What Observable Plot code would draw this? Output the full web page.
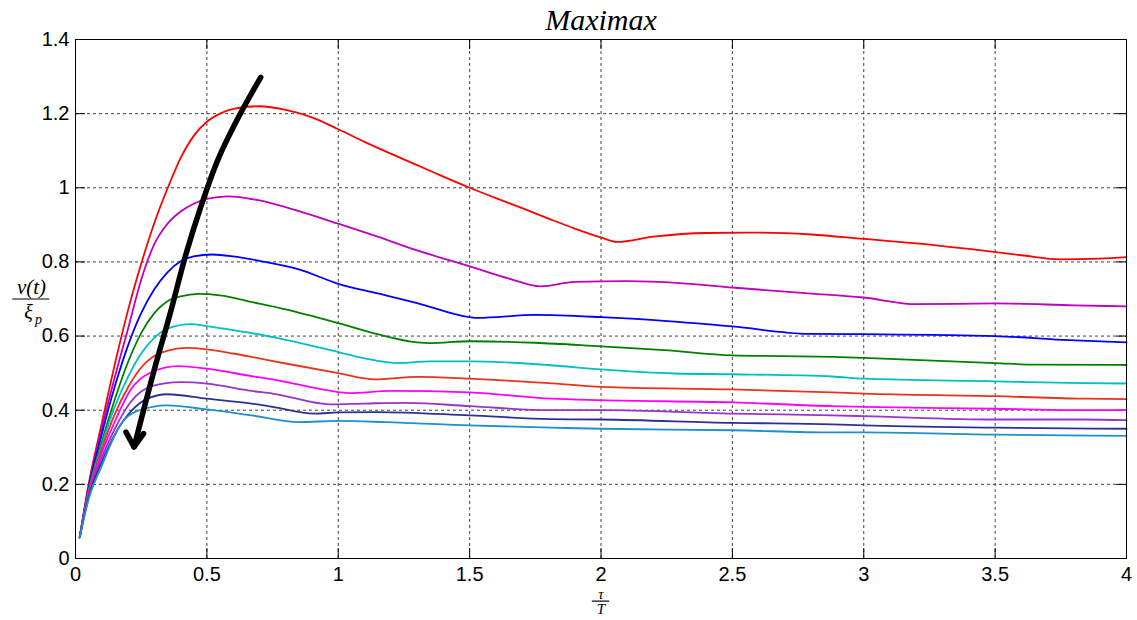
<!DOCTYPE html>
<html>
<head>
<meta charset="utf-8">
<script src="https://cdn.jsdelivr.net/npm/d3@7"></script>
<script src="https://cdn.jsdelivr.net/npm/@observablehq/plot@0.6"></script>
<style>
  html, body { margin: 0; padding: 0; background: #fff; }
</style>
</head>
<body>
<div id="chart"></div>
<script>
// ---- Data ----
const xTicks = [0, 0.5, 1, 1.5, 2, 2.5, 3, 3.5, 4];
const xTickLabels = ["0", "0.5", "1", "1.5", "2", "2.5", "3", "3.5", "4"];
const yTicks = [0, 0.2, 0.4, 0.6, 0.8, 1.0, 1.2, 1.4];
const yTickLabels = ["0", "0.2", "0.4", "0.6", "0.8", "1", "1.2", "1.4"];

const seriesNames = ["s1", "s2", "s3", "s4", "s5", "s6", "s7", "s8", "s9", "s10"];
const seriesColors = ["#ff0000", "#bf00bf", "#0000ff", "#008000", "#00bfbf",
                      "#e8341a", "#ff00ff", "#9933cc", "#2e3192", "#1f8fcf"];

const s1 = [[0.016,0.057],[0.05,0.20],[0.1,0.365],[0.15,0.525],[0.2,0.67],[0.25,0.795],[0.3,0.905],[0.35,0.998],[0.4,1.08],[0.45,1.14],[0.5,1.178],[0.55,1.2],[0.6,1.213],[0.7,1.22],[0.8,1.21],[0.9,1.19],[1.0,1.158],[1.1,1.124],[1.2,1.092],[1.3,1.061],[1.4,1.03],[1.5,1.0],[1.6,0.972],[1.7,0.945],[1.8,0.917],[1.9,0.89],[2.0,0.866],[2.06,0.854],[2.2,0.868],[2.4,0.878],[2.6,0.879],[2.8,0.874],[3.0,0.862],[3.2,0.85],[3.4,0.835],[3.6,0.818],[3.75,0.807],[3.9,0.809],[4.0,0.813]];
const s2 = [[0.016,0.057],[0.05,0.195],[0.1,0.35],[0.15,0.49],[0.2,0.62],[0.25,0.752],[0.3,0.848],[0.35,0.903],[0.4,0.936],[0.45,0.957],[0.5,0.97],[0.58,0.977],[0.7,0.966],[0.85,0.937],[1.0,0.903],[1.15,0.868],[1.3,0.831],[1.5,0.788],[1.65,0.755],[1.77,0.734],[1.9,0.746],[2.1,0.748],[2.3,0.743],[2.5,0.731],[2.75,0.717],[3.0,0.704],[3.2,0.686],[3.5,0.688],[3.8,0.683],[4.0,0.68]];
const s3 = [[0.016,0.057],[0.05,0.19],[0.1,0.335],[0.15,0.465],[0.2,0.575],[0.25,0.662],[0.3,0.726],[0.35,0.772],[0.4,0.802],[0.45,0.815],[0.52,0.82],[0.6,0.815],[0.7,0.803],[0.85,0.78],[1.0,0.741],[1.15,0.715],[1.3,0.689],[1.5,0.651],[1.53,0.649],[1.75,0.657],[2.0,0.651],[2.24,0.641],[2.5,0.626],[2.79,0.606],[3.0,0.605],[3.5,0.6],[3.78,0.589],[4.0,0.583]];
const s4 = [[0.016,0.057],[0.05,0.185],[0.1,0.315],[0.15,0.43],[0.2,0.53],[0.25,0.608],[0.3,0.662],[0.35,0.694],[0.4,0.707],[0.47,0.714],[0.55,0.71],[0.67,0.692],[0.8,0.672],[1.0,0.635],[1.15,0.605],[1.3,0.583],[1.35,0.581],[1.5,0.586],[1.75,0.582],[2.0,0.572],[2.24,0.562],[2.5,0.548],[2.88,0.544],[3.0,0.541],[3.5,0.527],[3.65,0.523],[4.0,0.522]];
const s5 = [[0.016,0.057],[0.05,0.18],[0.1,0.305],[0.15,0.41],[0.2,0.49],[0.25,0.553],[0.3,0.595],[0.35,0.62],[0.44,0.632],[0.5,0.627],[0.6,0.616],[0.67,0.608],[0.8,0.59],[1.0,0.557],[1.1,0.54],[1.23,0.527],[1.35,0.532],[1.5,0.532],[1.8,0.522],[2.0,0.51],[2.28,0.499],[2.5,0.497],[2.88,0.491],[3.0,0.485],[3.5,0.478],[3.84,0.473],[4.0,0.472]];
const s6 = [[0.016,0.057],[0.05,0.178],[0.1,0.295],[0.15,0.39],[0.2,0.462],[0.26,0.523],[0.33,0.556],[0.43,0.568],[0.5,0.564],[0.6,0.553],[0.67,0.544],[0.8,0.526],[1.0,0.5],[1.14,0.483],[1.3,0.49],[1.5,0.485],[1.8,0.473],[2.0,0.463],[2.5,0.456],[2.88,0.448],[3.0,0.445],[3.5,0.438],[3.84,0.431],[4.0,0.43]];
const s7 = [[0.016,0.057],[0.05,0.175],[0.1,0.285],[0.15,0.37],[0.21,0.455],[0.29,0.503],[0.39,0.519],[0.5,0.512],[0.67,0.492],[0.75,0.483],[1.0,0.449],[1.04,0.446],[1.2,0.452],[1.5,0.448],[1.81,0.431],[2.0,0.427],[2.5,0.421],[2.88,0.411],[3.0,0.409],[3.5,0.404],[3.84,0.4],[4.0,0.4]];
const s8 = [[0.016,0.057],[0.05,0.17],[0.1,0.272],[0.15,0.35],[0.21,0.422],[0.29,0.465],[0.4,0.476],[0.5,0.472],[0.67,0.452],[0.75,0.445],[0.97,0.416],[1.1,0.418],[1.26,0.42],[1.5,0.411],[1.81,0.4],[2.0,0.4],[2.5,0.391],[2.88,0.386],[3.0,0.384],[3.5,0.375],[3.84,0.375],[4.0,0.373]];
const s9 = [[0.016,0.057],[0.05,0.165],[0.1,0.26],[0.15,0.335],[0.21,0.396],[0.27,0.43],[0.35,0.443],[0.5,0.431],[0.67,0.418],[0.75,0.409],[0.91,0.391],[1.0,0.394],[1.15,0.395],[1.5,0.386],[1.81,0.376],[2.0,0.375],[2.5,0.366],[2.88,0.362],[3.0,0.359],[3.5,0.353],[4.0,0.35]];
const s10 = [[0.016,0.057],[0.05,0.16],[0.1,0.25],[0.13,0.302],[0.172,0.362],[0.236,0.398],[0.35,0.413],[0.5,0.402],[0.67,0.386],[0.85,0.368],[1.0,0.371],[1.18,0.368],[1.5,0.359],[1.81,0.353],[2.0,0.35],[2.5,0.346],[2.88,0.34],[3.0,0.34],[3.5,0.334],[4.0,0.331]];

// annotation arrow (data coordinates)
const arrowPath = [[0.705,1.298],[0.62,1.19],[0.541,1.074],[0.48,0.955],[0.42,0.82],[0.36,0.66],[0.30,0.51],[0.223,0.301]];
const arrowHead = [[0.192,0.341],[0.223,0.301],[0.259,0.337]];

const titleText = "Maximax";

// ---- Build table ----
const allSeries = [s1, s2, s3, s4, s5, s6, s7, s8, s9, s10];
const rows = allSeries.flatMap((s, i) => s.map(([x, y]) => ({x, y, k: seriesNames[i]})));
const arrowRows = arrowPath.map(([x, y]) => ({x, y}));
const headRows = arrowHead.map(([x, y]) => ({x, y}));
const xLab = new Map(xTicks.map((t, i) => [t, xTickLabels[i]]));
const yLab = new Map(yTicks.map((t, i) => [t, yTickLabels[i]]));

const W = 1137, H = 620, mL = 75, mR = 11, mT = 39, mB = 62;
const fw = W - mL - mR, fh = H - mT - mB;
const tickLen = 10;
const gridStyle = {stroke: "#222", strokeWidth: 1, strokeDasharray: "3,3", strokeOpacity: 0.85};
const serif = "'Liberation Serif', 'Times New Roman', serif";

const chart = Plot.plot({
  width: W, height: H,
  marginLeft: mL, marginRight: mR, marginTop: mT, marginBottom: mB,
  x: {domain: [0, 4]},
  y: {domain: [0, 1.4]},
  color: {domain: seriesNames, range: seriesColors},
  style: {fontFamily: "'Liberation Sans', Arial, sans-serif", fontSize: "20px", color: "black", background: "white", overflow: "visible"},
  marks: [
    // grid
    Plot.ruleX(xTicks.slice(1, -1), gridStyle),
    Plot.ruleY(yTicks.slice(1, -1), gridStyle),
    // inward ticks
    Plot.ruleX(xTicks, {insetTop: fh - tickLen, stroke: "black"}),
    Plot.ruleX(xTicks, {insetBottom: fh - tickLen, stroke: "black"}),
    Plot.ruleY(yTicks, {insetRight: fw - tickLen, stroke: "black"}),
    Plot.ruleY(yTicks, {insetLeft: fw - tickLen, stroke: "black"}),
    // axes labels
    Plot.axisX(xTicks, {tickSize: 0, tickPadding: 8, tickFormat: d => xLab.get(d), fontSize: 20, label: null}),
    Plot.axisY(yTicks, {tickSize: 0, tickPadding: 6, tickFormat: d => yLab.get(d), fontSize: 20, label: null}),
    // series
    Plot.line(rows, {x: "x", y: "y", z: "k", stroke: "k", strokeWidth: 1.8, curve: "monotone-x"}),
    // arrow annotation
    Plot.line(arrowRows, {x: "x", y: "y", stroke: "black", strokeWidth: 5.5, curve: "catmull-rom", strokeLinecap: "round"}),
    Plot.line(headRows, {x: "x", y: "y", stroke: "black", strokeWidth: 5.5, strokeLinecap: "round", strokeLinejoin: "round"}),
    Plot.frame({stroke: "black", strokeWidth: 1}),
    // title
    Plot.text([titleText], {frameAnchor: "top", lineAnchor: "bottom", dy: -10, fontSize: 30, fontStyle: "italic", fontFamily: serif, letterSpacing: "0.5px"}),
    // y label: nu(t) / xi_p
    Plot.text(["ν(t)"], {frameAnchor: "left", y: 0.7, dx: -44, lineAnchor: "bottom", dy: -5, fontSize: 21, fontStyle: "italic", fontFamily: serif, textAnchor: "middle"}),
    Plot.ruleY([0.7], {x1: -0.239, x2: -0.098, stroke: "black", strokeWidth: 1.2}),
    Plot.text(["ξ"], {frameAnchor: "left", y: 0.7, dx: -47, lineAnchor: "top", dy: 6, fontSize: 20, fontStyle: "italic", fontFamily: serif, textAnchor: "middle"}),
    Plot.text(["p"], {frameAnchor: "left", y: 0.7, dx: -37, lineAnchor: "top", dy: 15, fontSize: 14, fontStyle: "italic", fontFamily: serif, textAnchor: "middle"}),
    // x label: tau / T
    Plot.text(["τ"], {x: 2, frameAnchor: "bottom", lineAnchor: "bottom", dy: 40, fontSize: 15, fontStyle: "italic", fontFamily: serif}),
    Plot.ruleY([-0.115], {x1: 1.967, x2: 2.033, stroke: "black", strokeWidth: 1.2}),
    Plot.text(["T"], {x: 2, frameAnchor: "bottom", lineAnchor: "top", dy: 45, fontSize: 15, fontStyle: "italic", fontFamily: serif})
  ]
});
document.getElementById("chart").appendChild(chart);
</script>
</body>
</html>
